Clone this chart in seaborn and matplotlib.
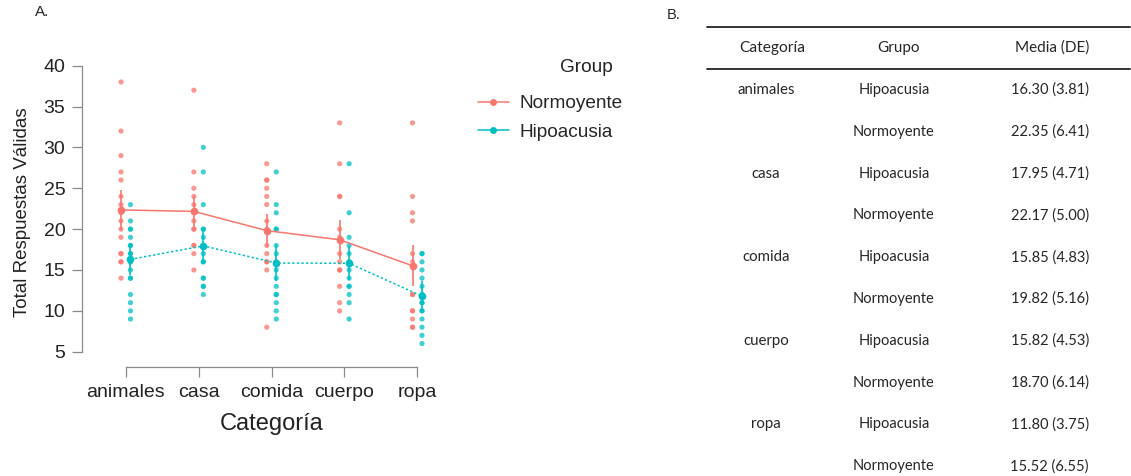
import numpy as np
import pandas as pd
import matplotlib
matplotlib.use("Agg")
import matplotlib.pyplot as plt
from matplotlib.lines import Line2D
import seaborn as sns

# categorias y grupos
categorias = ["animales", "casa", "comida", "cuerpo", "ropa"]
grupos = ["Normoyente", "Hipoacusia"]

animales_normo = [38, 32, 29, 27, 26, 24, 23, 22, 21, 20, 19, 17, 17, 16, 16, 14]
animales_hipo = [23, 21, 20, 20, 19, 18, 18, 17, 17, 16, 16, 15, 14, 14, 12, 11, 10, 9]
casa_normo = [37, 27, 25, 24, 23, 22, 21, 20, 20, 18, 18, 17, 15]
casa_hipo = [30, 27, 23, 20, 20, 19, 18, 18, 17, 16, 16, 14, 14, 13, 13, 12]
comida_normo = [28, 26, 26, 25, 24, 23, 21, 20, 18, 17, 16, 16, 15, 8]
comida_hipo = [27, 23, 22, 20, 20, 18, 17, 16, 15, 14, 13, 12, 12, 11, 10, 9]
cuerpo_normo = [33, 28, 24, 24, 20, 19, 17, 16, 15, 15, 13, 11, 10]
cuerpo_hipo = [28, 22, 19, 18, 17, 16, 16, 15, 14, 13, 13, 12, 11, 9]
ropa_normo = [33, 24, 22, 21, 17, 16, 12, 12, 10, 10, 9, 8, 8]
ropa_hipo = [17, 17, 16, 15, 14, 13, 12, 12, 11, 11, 10, 10, 9, 8, 7, 6]

# tabla B: media (DE)
media_hipo = [16.30, 17.95, 15.85, 15.82, 11.80]
de_hipo = [3.81, 4.71, 4.83, 4.53, 3.75]
media_normo = [22.35, 22.17, 19.82, 18.70, 15.52]
de_normo = [6.41, 5.00, 5.16, 6.14, 6.55]

# semiamplitud de las barras de error
ic_hipo = [1.9, 2.2, 2.2, 2.1, 1.8]
ic_normo = [2.4, 1.9, 2.0, 2.4, 2.5]

colores = {"Normoyente": "#F8766D", "Hipoacusia": "#00BFC4"}
desplaz = {"Normoyente": -0.065, "Hipoacusia": 0.065}

sns.set_style("white")
plt.rcParams["font.family"] = ["Liberation Sans", "DejaVu Sans"]

# datos crudos
normo_listas = [animales_normo, casa_normo, comida_normo, cuerpo_normo, ropa_normo]
hipo_listas = [animales_hipo, casa_hipo, comida_hipo, cuerpo_hipo, ropa_hipo]
filas = []
for cat, vn, vh in zip(categorias, normo_listas, hipo_listas):
    filas += [(cat, "Normoyente", v) for v in vn]
    filas += [(cat, "Hipoacusia", v) for v in vh]
crudo = pd.DataFrame(filas, columns=["Categoria", "Grupo", "valor"])
idx = {c: i for i, c in enumerate(categorias)}
crudo["pos"] = crudo["Categoria"].map(idx) + crudo["Grupo"].map(desplaz)

# resumen por categoria y grupo
resumen = pd.DataFrame({
    "Categoria": categorias * 2,
    "Grupo": ["Normoyente"] * 5 + ["Hipoacusia"] * 5,
    "media": media_normo + media_hipo,
    "de": de_normo + de_hipo,
    "ic": ic_normo + ic_hipo,
})
resumen["pos"] = resumen["Categoria"].map(idx) + resumen["Grupo"].map(desplaz)

fig = plt.figure(figsize=(11.31, 4.76), dpi=100)
ax = fig.add_axes([82 / 1131, 1 - 367 / 476, (461 - 82) / 1131, (367 - 57.5) / 476])

sns.scatterplot(data=crudo, x="pos", y="valor", hue="Grupo", palette=colores,
                s=14, alpha=0.75, linewidth=0, legend=False, ax=ax)
for g in grupos:
    sub = resumen[resumen["Grupo"] == g]
    ax.errorbar(sub["pos"], sub["media"], yerr=sub["ic"], fmt="none",
                ecolor=colores[g], elinewidth=1.2, capsize=0, zorder=3)
sns.lineplot(data=resumen, x="pos", y="media", hue="Grupo", style="Grupo",
             palette=colores, dashes={"Normoyente": "", "Hipoacusia": (1.5, 1.5)},
             markers={"Normoyente": "o", "Hipoacusia": "o"}, markersize=5.5,
             markeredgewidth=0, linewidth=1.1, errorbar=None, legend=False,
             ax=ax, zorder=4)

ax.set_xlim(-0.6, 4.6)
ax.set_ylim(3.13, 41)
ax.set_xticks(range(len(categorias)))
ax.set_xticklabels(categorias)
ax.set_yticks(range(5, 41, 5))
sns.despine(ax=ax)
ax.spines["left"].set_bounds(5, 40)
ax.spines["bottom"].set_bounds(0, 4)
for s in ["left", "bottom"]:
    ax.spines[s].set_color("#8a8a8a")
    ax.spines[s].set_linewidth(0.9)
ax.tick_params(axis="both", length=7, width=0.9, color="#8a8a8a",
               labelsize=14, labelcolor="#222222", pad=5, left=True, bottom=True)
ax.set_xlabel("Categoría", fontsize=17, color="#222222", labelpad=9)
ax.set_ylabel("Total Respuestas Válidas", fontsize=13.5, color="#222222", labelpad=9)
ax.grid(False)

manejadores = [Line2D([0], [0], color=colores[g], marker="o", markersize=5,
                      markeredgewidth=0, linewidth=1.1) for g in grupos]
fig.legend(handles=manejadores, labels=grupos, loc="upper left",
           bbox_to_anchor=(461 / 1131, 1 - 78 / 476), frameon=False,
           fontsize=13.7, handlelength=1.6, handletextpad=0.55, labelspacing=0.58)
fig.text(613 / 1131, 1 - 67 / 476, "Group", fontsize=13.7, ha="right", va="center",
         color="#222222")

fig.text(35 / 1131, 1 - 12 / 476, "A.", fontsize=11, va="center", ha="left")
fig.text(667 / 1131, 1 - 15 / 476, "B.", fontsize=10.5, va="center", ha="left")

# tabla B
tab = fig.add_axes([0, 0, 1, 1])
tab.set_xlim(0, 1131)
tab.set_ylim(476, 0)
tab.axis("off")
fuente_tabla = ["Lato", "DejaVu Sans"]
tab.plot([707, 1130], [27, 27], color="#222222", linewidth=1.3)
tab.plot([707, 1130], [69, 69], color="#222222", linewidth=1.3)
tab.text(772, 48, "Categoría", ha="center", va="center", fontsize=11.2, family=fuente_tabla)
tab.text(899, 48, "Grupo", ha="center", va="center", fontsize=11, family=fuente_tabla)
tab.text(1089, 48, "Media (DE)", ha="right", va="center", fontsize=11, family=fuente_tabla)
y0, paso = 90, 41.8
for i, cat in enumerate(categorias):
    filas_tabla = [("Hipoacusia", media_hipo[i], de_hipo[i]),
                   ("Normoyente", media_normo[i], de_normo[i])]
    for j, (g, m, d) in enumerate(filas_tabla):
        y = y0 + (2 * i + j) * paso
        if j == 0:
            tab.text(766, y, cat, ha="center", va="center", fontsize=10.8, family=fuente_tabla)
        tab.text(894, y, g, ha="center", va="center", fontsize=10.5, family=fuente_tabla)
        tab.text(1089, y, f"{m:.2f} ({d:.2f})", ha="right", va="center",
                 fontsize=10.5, family=fuente_tabla)

fig.savefig("out.png", dpi=100)
